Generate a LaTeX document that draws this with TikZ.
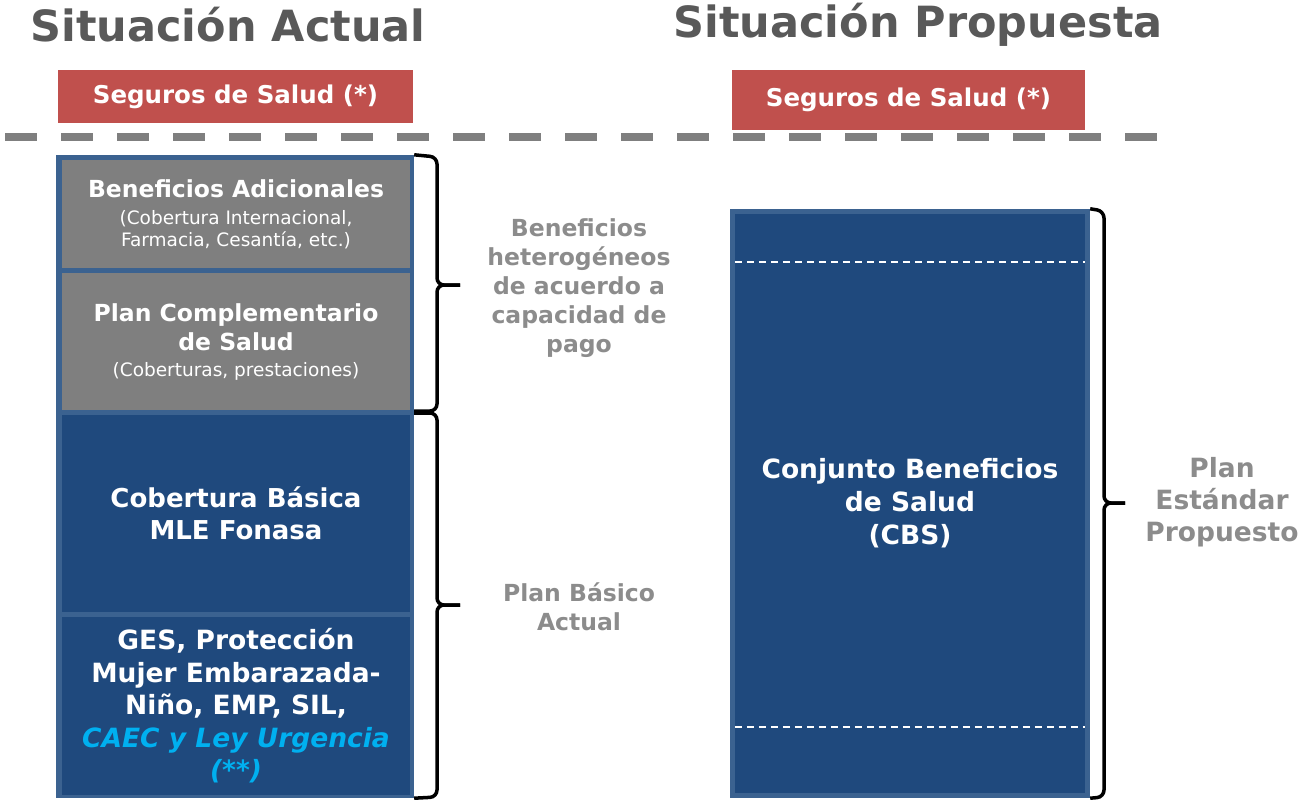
\documentclass[tikz,border=0pt]{standalone}
\usepackage{fontspec}
\setmainfont{DejaVu Sans}
\usetikzlibrary{positioning}
\definecolor{azul}{HTML}{1F497D}
\definecolor{borde}{HTML}{3B6290}
\definecolor{grisbox}{HTML}{7F7F7F}
\definecolor{rojo}{HTML}{C0504D}
\definecolor{gristit}{HTML}{595959}
\definecolor{grislat}{HTML}{8C8C8C}
\definecolor{celeste}{HTML}{00B0F0}
\newcommand{\fgrande}{\bfseries\fontsize{23.5}{29}\selectfont}
\newcommand{\fcaec}{\color{celeste}\bfseries\itshape}

\begin{document}
\begin{tikzpicture}[x=1pt,y=-1pt,
  caja/.style={rectangle, inner sep=0pt, text=white, align=center},
  titulo/.style={text=gristit, font=\bfseries\fontsize{43}{47}\selectfont},
  lateral/.style={text=grislat, align=center},
  llave/.style={line width=3.5pt, rounded corners=7pt}]
  \useasboundingbox (0,0) rectangle (1307,804);

  % Titulos
  \node[titulo] (tact) at (228,25) {Situación Actual};
  \node[titulo] (tpro) at (918,25) {Situación Propuesta};

  % Seguros de salud
  \node[caja, fill=rojo, minimum width=355, minimum height=53,
    font=\bfseries\fontsize{24.5}{28}\selectfont] (seg1) at (235.5,96.5) {Seguros de Salud (*)};
  \node[caja, fill=rojo, minimum width=353, minimum height=60,
    font=\bfseries\fontsize{24.5}{28}\selectfont] (seg2) at (908.5,100) {Seguros de Salud (*)};

  % Linea divisoria
  \draw[grisbox, line width=8pt, dash pattern=on 32pt off 24pt] (5,137) -- (1160,137);

  % Columna actual
  \node[caja, fill=borde, minimum width=358, minimum height=643] (izq) at (235,476.5) {};
  \node[caja, fill=grisbox, minimum width=348, minimum height=108,
    font=\fontsize{18.5}{22}\selectfont] (ba) at (236,214)
    {\fgrande Beneficios Adicionales\\[5pt]
     (Cobertura Internacional,\\ Farmacia, Cesantía, etc.)};
  \node[caja, fill=grisbox, minimum width=348, minimum height=137,
    font=\fontsize{18.5}{26}\selectfont] (pc) at (236,341.5)
    {\fgrande Plan Complementario\\[3pt] \fgrande de Salud\\
     (Coberturas, prestaciones)};
  \node[caja, fill=azul, minimum width=348, minimum height=197,
    font=\bfseries\fontsize{26}{32}\selectfont] (cb) at (236,513.5)
    {Cobertura Básica\\ MLE Fonasa};
  \node[caja, fill=azul, minimum width=348, minimum height=178,
    font=\bfseries\fontsize{26.5}{32.5}\selectfont] (ges) at (236,706)
    {GES, Protección\\ Mujer Embarazada-\\ Niño, EMP, SIL,\\
     \fcaec CAEC y Ley Urgencia\\ \fcaec (**)};

  % Llaves columna actual
  \draw[llave] (izq.north east) -- (437,157) -- (437,285) -- (460,285);
  \draw[llave] (414,411) -- (437,411) -- (437,285) -- (460,285);
  \draw[llave] (414,413) -- (437,413) -- (437,605) -- (460,605);
  \draw[llave] (izq.south east) -- (437,797) -- (437,605) -- (460,605);

  \node[lateral, font=\bfseries\fontsize{23.5}{29}\selectfont] (het) at (579,288)
    {Beneficios\\ heterogéneos\\ de acuerdo a\\ capacidad de\\ pago};
  \node[lateral, font=\bfseries\fontsize{23.5}{29}\selectfont] (pba) at (579,607)
    {Plan Básico\\ Actual};

  % Columna propuesta
  \node[caja, fill=borde, minimum width=360, minimum height=589] (der) at (910,503.5) {};
  \node[caja, fill=azul, minimum width=350, minimum height=579,
    font=\bfseries\fontsize{26.5}{33}\selectfont] (cbs) at (910,503.5)
    {Conjunto Beneficios\\ de Salud\\ (CBS)};
  \draw[white, line width=1.5pt, dash pattern=on 7pt off 5pt] (cbs.west |- 0,262) -- (cbs.east |- 0,262);
  \draw[white, line width=1.5pt, dash pattern=on 7pt off 5pt] (cbs.west |- 0,727) -- (cbs.east |- 0,727);

  \draw[llave] (der.north east) -- (1104,211) -- (1104,503) -- (1125,503);
  \draw[llave] (der.south east) -- (1104,797) -- (1104,503) -- (1125,503);

  \node[lateral, font=\bfseries\fontsize{26.5}{32}\selectfont] (pep) at (1222,502)
    {Plan\\ Estándar\\ Propuesto};
\end{tikzpicture}
\end{document}
